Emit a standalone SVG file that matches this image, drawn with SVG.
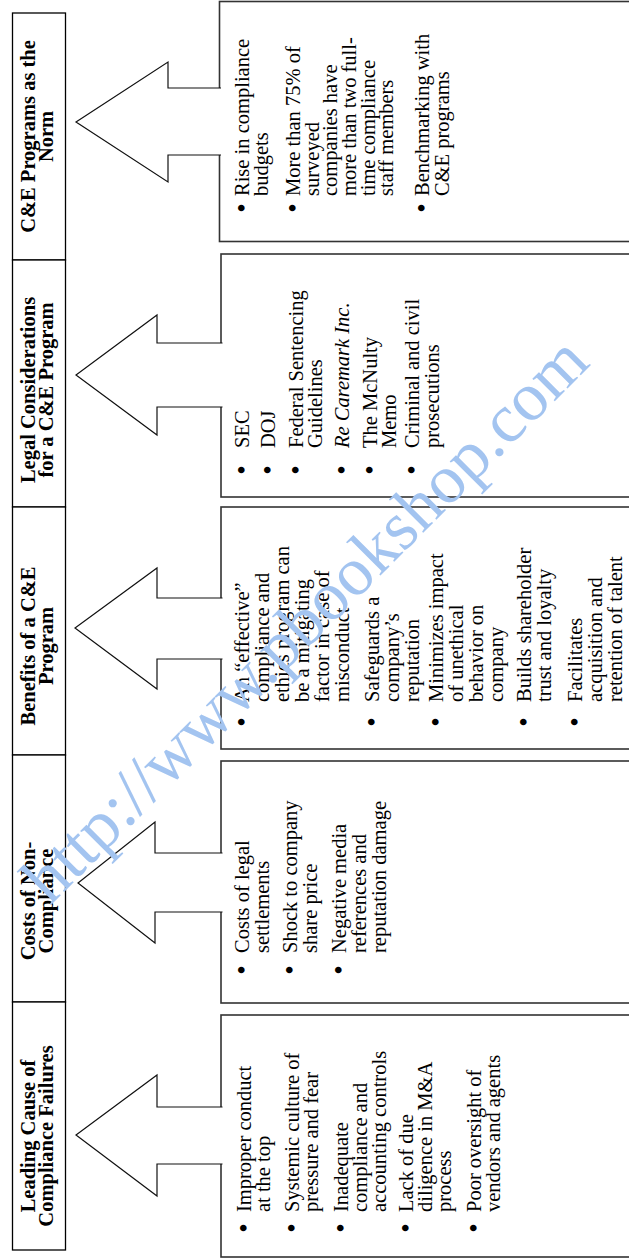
<svg xmlns="http://www.w3.org/2000/svg" width="629" height="1258" viewBox="0 0 629 1258">
<style>
.tbox{fill:#fff;stroke:#000;stroke-width:1.3}
.cbox{fill:#fff;stroke:#333;stroke-width:1.6}
.arrow{fill:#fff;stroke:#111;stroke-width:1.2;stroke-linejoin:miter}
.title{font-family:"Liberation Serif","Times New Roman",serif;font-weight:bold;font-size:20.5px;text-anchor:middle;fill:#000}
.item{font-family:"Liberation Serif","Times New Roman",serif;font-size:20.5px;fill:#000}
.bul{font-size:27px}
.it{font-style:italic}
.wm{font-family:"Liberation Serif","Times New Roman",serif;font-size:69px;fill:#a3c4f0}
</style>
<rect width="629" height="1258" fill="#fff"/>

<g id="norm-detail"><rect class="cbox" x="219.5" y="1.5" width="430" height="240"/></g>
<g id="legal-detail"><rect class="cbox" x="221" y="254" width="430" height="243"/></g>
<g id="benefits-detail"><rect class="cbox" x="221" y="507" width="430" height="242"/></g>
<g id="costs-detail"><rect class="cbox" x="221" y="761" width="430" height="242"/></g>
<g id="causes-detail"><rect class="cbox" x="221" y="1015" width="430" height="242"/></g>

<g id="connectors">
<path class="arrow" d="M221,88 H168 V62 L76,122 L168,182 V155 H221"/>
<path class="arrow" d="M222.5,343 H157 V315 L76,375 L157,435 V407 H222.5"/>
<path class="arrow" d="M222.5,598 H157 V568 L75,628 L157,689 V659 H222.5"/>
<path class="arrow" d="M222.5,853 H155 V822 L78,883 L155,943 V912 H222.5"/>
<path class="arrow" d="M222.5,1107 H157 V1075 L76,1135 L157,1196 V1164 H222.5"/>
</g>

<g id="norm-title"><rect class="tbox" x="12.5" y="13" width="53" height="247"/></g>
<g id="legal-title"><rect class="tbox" x="12.5" y="260" width="53" height="247"/></g>
<g id="benefits-title"><rect class="tbox" x="12.5" y="507" width="53" height="248"/></g>
<g id="costs-title"><rect class="tbox" x="12.5" y="755" width="53" height="247"/></g>
<g id="causes-title"><rect class="tbox" x="12.5" y="1002" width="53" height="248"/></g>

<g id="labels" transform="rotate(-90)">
<text class="title" x="-136.5" y="35">C&amp;E Programs as the</text>
<text class="title" x="-136.5" y="53">Norm</text>
<text class="title" x="-390" y="35">Legal Considerations</text>
<text class="title" x="-390" y="53">for a C&amp;E Program</text>
<text class="title" x="-646" y="35">Benefits of a C&amp;E</text>
<text class="title" x="-646" y="53">Program</text>
<text class="title" x="-901" y="35">Costs of Non-</text>
<text class="title" x="-901" y="53">Compliance</text>
<text class="title" x="-1136" y="35">Leading Cause of</text>
<text class="title" x="-1136" y="53">Compliance Failures</text>

<g class="item">
<text class="bul" x="-212.7" y="251">•</text><text x="-196" y="249">Rise in compliance</text>
<text x="-196" y="268">budgets</text>
<text class="bul" x="-212.7" y="302">•</text><text x="-196" y="300">More than 75% of</text>
<text x="-196" y="319">surveyed</text>
<text x="-196" y="337">companies have</text>
<text x="-196" y="356">more than two full-</text>
<text x="-196" y="375">time compliance</text>
<text x="-196" y="393">staff members</text>
<text class="bul" x="-212.7" y="431">•</text><text x="-196" y="429">Benchmarking with</text>
<text x="-196" y="449">C&amp;E programs</text>

<text class="bul" x="-474.7" y="251">•</text><text x="-448" y="249">SEC</text>
<text class="bul" x="-474.7" y="277">•</text><text x="-448" y="275">DOJ</text>
<text class="bul" x="-474.7" y="305">•</text><text x="-448" y="303">Federal Sentencing</text>
<text x="-448" y="322">Guidelines</text>
<text class="bul" x="-474.7" y="351">•</text><text class="it" x="-448" y="349">Re Caremark Inc.</text>
<text class="bul" x="-474.7" y="379">•</text><text x="-448" y="377">The McNulty</text>
<text x="-448" y="396">Memo</text>
<text class="bul" x="-474.7" y="421">•</text><text x="-448" y="419">Criminal and civil</text>
<text x="-448" y="439">prosecutions</text>

<text class="bul" x="-726.7" y="251">•</text><text x="-702" y="249">An “effective”</text>
<text x="-702" y="269">compliance and</text>
<text x="-702" y="289">ethics program can</text>
<text x="-702" y="309">be a mitigating</text>
<text x="-702" y="329">factor in case of</text>
<text x="-702" y="349">misconduct</text>
<text class="bul" x="-726.7" y="381">•</text><text x="-702" y="379">Safeguards a</text>
<text x="-702" y="399">company’s</text>
<text x="-702" y="419">reputation</text>
<text class="bul" x="-726.7" y="445">•</text><text x="-702" y="443">Minimizes impact</text>
<text x="-702" y="463">of unethical</text>
<text x="-702" y="483">behavior on</text>
<text x="-702" y="503">company</text>
<text class="bul" x="-726.7" y="533">•</text><text x="-702" y="531">Builds shareholder</text>
<text x="-702" y="551">trust and loyalty</text>
<text class="bul" x="-726.7" y="584">•</text><text x="-702" y="582">Facilitates</text>
<text x="-702" y="602">acquisition and</text>
<text x="-702" y="622">retention of talent</text>

<text class="bul" x="-974.7" y="251">•</text><text x="-953" y="249">Costs of legal</text>
<text x="-953" y="269">settlements</text>
<text class="bul" x="-974.7" y="299">•</text><text x="-953" y="297">Shock to company</text>
<text x="-953" y="317">share price</text>
<text class="bul" x="-974.7" y="348">•</text><text x="-953" y="346">Negative media</text>
<text x="-953" y="366">references and</text>
<text x="-953" y="386">reputation damage</text>

<text class="bul" x="-1232.7" y="253">•</text><text x="-1212" y="251">Improper conduct</text>
<text x="-1212" y="270">at the top</text>
<text class="bul" x="-1232.7" y="301">•</text><text x="-1212" y="299">Systemic culture of</text>
<text x="-1212" y="318">pressure and fear</text>
<text class="bul" x="-1232.7" y="350">•</text><text x="-1212" y="348">Inadequate</text>
<text x="-1212" y="367">compliance and</text>
<text x="-1212" y="386">accounting controls</text>
<text class="bul" x="-1232.7" y="415">•</text><text x="-1212" y="413">Lack of due</text>
<text x="-1212" y="432">diligence in M&amp;A</text>
<text x="-1212" y="451">process</text>
<text class="bul" x="-1232.7" y="483">•</text><text x="-1212" y="481">Poor oversight of</text>
<text x="-1212" y="500">vendors and agents</text>
</g>
</g>

<text class="wm" transform="translate(50,906) rotate(-45)">http://www.pbookshop.com</text>
</svg>
